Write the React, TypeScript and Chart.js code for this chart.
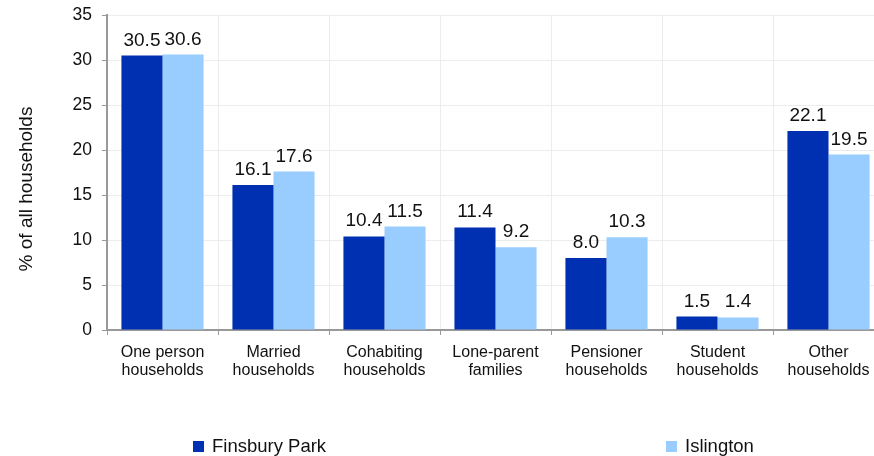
import React, { useEffect, useRef } from "react";
import { Chart, registerables } from "chart.js";

Chart.register(...registerables);

const categories: string[][] = [
  ["One person", "households"],
  ["Married", "households"],
  ["Cohabiting", "households"],
  ["Lone-parent", "families"],
  ["Pensioner", "households"],
  ["Student", "households"],
  ["Other", "households"],
];
const finsburyPark: number[] = [30.5, 16.1, 10.4, 11.4, 8.0, 1.5, 22.1];
const islington: number[] = [30.6, 17.6, 11.5, 9.2, 10.3, 1.4, 19.5];
const seriesNames: string[] = ["Finsbury Park", "Islington"];
const yTicks: number[] = [0, 5, 10, 15, 20, 25, 30, 35];
const yTitle = "% of all households";

const FONT = "'Liberation Sans', Arial, Helvetica, sans-serif";
const DARK = "#0030B2";
const LIGHT = "#99CCFF";

const valueLabels = {
  id: "valueLabels",
  afterDatasetsDraw(chart: any) {
    const ctx = chart.ctx;
    ctx.save();
    ctx.font = `19px ${FONT}`;
    ctx.fillStyle = "#111";
    ctx.textAlign = "center";
    ctx.textBaseline = "alphabetic";
    chart.data.datasets.forEach((ds: any, i: number) => {
      const meta = chart.getDatasetMeta(i);
      meta.data.forEach((bar: any, j: number) => {
        ctx.fillText(Number(ds.data[j]).toFixed(1), bar.x, bar.y - 10);
      });
    });
    ctx.restore();
  },
};

const extras = {
  id: "extras",
  afterDraw(chart: any) {
    const ctx = chart.ctx;
    const positions = [193, 666];
    ctx.save();
    ctx.font = `18.5px ${FONT}`;
    ctx.textBaseline = "middle";
    ctx.textAlign = "left";
    chart.data.datasets.forEach((ds: any, i: number) => {
      const x = positions[i];
      ctx.fillStyle = ds.backgroundColor;
      ctx.fillRect(x, 441, 11, 11);
      ctx.fillStyle = "#111";
      ctx.fillText(ds.label, x + 19, 446.5);
    });
    ctx.translate(27, 189);
    ctx.rotate(-Math.PI / 2);
    ctx.textAlign = "center";
    ctx.font = `19px ${FONT}`;
    ctx.fillText(yTitle, 0, 0);
    ctx.restore();
  },
};

export default function App() {
  const ref = useRef<HTMLCanvasElement | null>(null);
  useEffect(() => {
    if (!ref.current) return;
    const chart = new Chart(ref.current, {
      type: "bar",
      data: {
        labels: categories,
        datasets: [
          { label: seriesNames[0], data: finsburyPark, backgroundColor: DARK, categoryPercentage: 0.74, barPercentage: 1 },
          { label: seriesNames[1], data: islington, backgroundColor: LIGHT, categoryPercentage: 0.74, barPercentage: 1 },
        ],
      },
      options: {
        responsive: false,
        animation: false,
        devicePixelRatio: 1,
        layout: { padding: { top: 15, right: 6, left: 0, bottom: 0 } },
        plugins: { legend: { display: false }, tooltip: { enabled: false } },
        scales: {
          x: {
            offset: true,
            grid: { offset: true, color: "#ececec", tickColor: "#999", tickLength: 5, lineWidth: 1 },
            border: { color: "#999", width: 2 },
            ticks: { color: "#111", font: { family: FONT, size: 16, lineHeight: 1.1 }, padding: 9, maxRotation: 0, autoSkip: false },
            afterFit: (s: any) => { s.height = 126; s.paddingLeft = 0; s.paddingRight = 0; },
          },
          y: {
            min: 0,
            max: 35,
            afterBuildTicks: (s: any) => { s.ticks = yTicks.map((v) => ({ value: v })); },
            grid: { color: "#ececec", tickColor: "#999", tickLength: 5 },
            border: { color: "#999", width: 2 },
            ticks: { color: "#111", font: { family: FONT, size: 17.5 }, padding: 10 },
            afterFit: (s: any) => { s.width = 107; s.paddingTop = 0; s.paddingBottom = 0; },
          },
        },
      },
      plugins: [valueLabels, extras],
    });
    return () => chart.destroy();
  }, []);
  return (
    <div style={{ position: "fixed", left: 0, top: 0, width: 874, height: 456, overflow: "hidden", background: "#fff" }}>
      <canvas ref={ref} width={890} height={456} style={{ display: "block", width: 890, height: 456 }} />
    </div>
  );
}
